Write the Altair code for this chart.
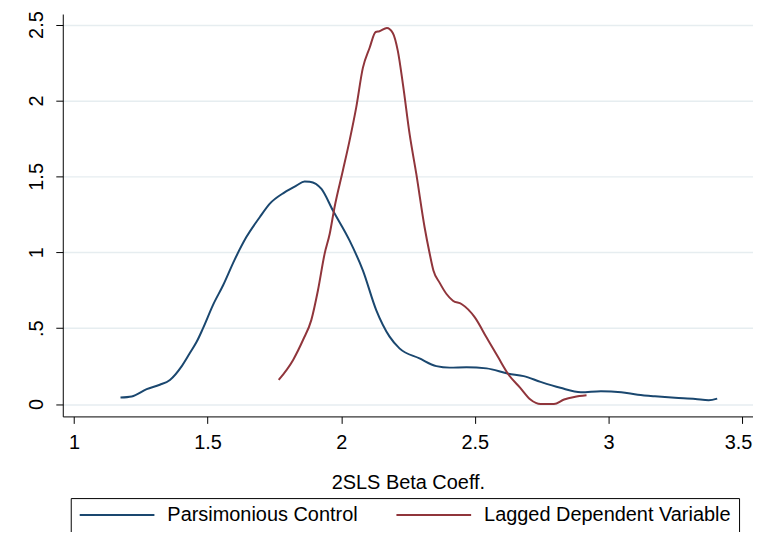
import altair as alt
import pandas as pd

# Parsimonious Control (blue)
pc_x = [1.174, 1.216, 1.272, 1.321, 1.359, 1.402, 1.433, 1.459, 1.483, 1.52, 1.558, 1.60, 1.645,
        1.695, 1.732, 1.788, 1.832, 1.863, 1.882, 1.926, 1.969, 2.031, 2.081, 2.131, 2.181, 2.218,
        2.293, 2.356, 2.406, 2.469, 2.544, 2.626, 2.683, 2.746, 2.82, 2.897, 2.972, 3.048, 3.11,
        3.174, 3.249, 3.325, 3.375, 3.407]
pc_y = [0.043, 0.05, 0.098, 0.127, 0.159, 0.247, 0.335, 0.41, 0.50, 0.652, 0.783, 0.947, 1.10,
        1.231, 1.319, 1.395, 1.439, 1.467, 1.465, 1.417, 1.275, 1.078, 0.881, 0.619, 0.444, 0.367,
        0.301, 0.25, 0.24, 0.243, 0.235, 0.2, 0.184, 0.146, 0.107, 0.078, 0.085, 0.078, 0.062,
        0.051, 0.041, 0.034, 0.025, 0.036]

# Lagged Dependent Variable (red)
ldv_x = [1.766, 1.82, 1.857, 1.888, 1.913, 1.938, 1.957, 1.975, 2.006, 2.031, 2.056, 2.081, 2.106,
         2.129, 2.143, 2.171, 2.193, 2.212, 2.231, 2.256, 2.281, 2.312, 2.33, 2.345, 2.368, 2.394,
         2.418, 2.45, 2.50, 2.544, 2.588, 2.626, 2.67, 2.708, 2.746, 2.796, 2.834, 2.872, 2.918]
ldv_y = [0.159, 0.291, 0.422, 0.553, 0.75, 0.991, 1.122, 1.297, 1.537, 1.734, 1.953, 2.215, 2.346,
         2.451, 2.456, 2.478, 2.445, 2.325, 2.106, 1.778, 1.516, 1.165, 1.0, 0.88, 0.80, 0.725,
         0.681, 0.659, 0.571, 0.438, 0.306, 0.195, 0.107, 0.030, 0.0, 0.0, 0.03, 0.047, 0.058]

series = ["Parsimonious Control", "Lagged Dependent Variable"]
colors = ["#1a476f", "#90353b"]
x_ticks = [1, 1.5, 2, 2.5, 3, 3.5]
y_ticks = [0, 0.5, 1, 1.5, 2, 2.5]

df = pd.concat([
    pd.DataFrame({"x": pc_x, "y": pc_y, "series": series[0]}),
    pd.DataFrame({"x": ldv_x, "y": ldv_y, "series": series[1]}),
])

FONT = "Liberation Sans"

chart = alt.Chart(df).mark_line(strokeWidth=2, interpolate="monotone").encode(
    x=alt.X("x:Q",
            scale=alt.Scale(domain=[0.958, 3.541], nice=False, zero=False),
            axis=alt.Axis(values=x_ticks, format="~g", grid=False,
                          title="2SLS Beta Coeff.", titleFont=FONT, titleFontSize=20,
                          titleFontWeight="normal", titleColor="black",
                          titleBaseline="alphabetic", titleY=72,
                          labelFont=FONT, labelFontSize=20, labelColor="black",
                          labelBaseline="top", labelPadding=9,
                          labelOffset={"condition": {"test": "datum.value == 3.5", "value": -4},
                                       "value": 0},
                          tickSize=7, tickColor="black", domainColor="black",
                          domainWidth=1, labelFlush=False)),
    y=alt.Y("y:Q",
            scale=alt.Scale(domain=[-0.0814, 2.5696], nice=False, zero=False),
            axis=alt.Axis(values=y_ticks, grid=True, gridColor="#e6edf0", gridWidth=1.5,
                          labelExpr="datum.value == 0.5 ? '.5' : format(datum.value, '~g')",
                          title=None, labelFont=FONT, labelFontSize=20, labelColor="black",
                          labelAngle=270, labelAlign="center", labelBaseline="alphabetic",
                          labelPadding=13, tickSize=7, tickColor="black",
                          domainColor="black", domainWidth=1, labelFlush=False)),
    color=alt.Color("series:N",
                    scale=alt.Scale(domain=series, range=colors),
                    sort=series,
                    legend=alt.Legend(title=None, orient="none", legendX=8, legendY=486,
                                      direction="horizontal", columns=2, columnPadding=37,
                                      symbolType="stroke", symbolSize=5625, symbolStrokeWidth=2,
                                      clipHeight=18, padding=8, labelOffset=12, labelLimit=500,
                                      labelFont=FONT, labelFontSize=20, labelColor="black",
                                      strokeColor="black", fillColor="white", cornerRadius=0)),
).properties(
    width=693, height=404,
    autosize=alt.AutoSizeParams(type="none"),
    padding={"left": 55, "top": 5, "right": 0, "bottom": 115},
).configure(background="white", view=alt.ViewConfig(strokeWidth=0))

chart.save("out.html", embed_options={"renderer": "svg", "actions": False})
